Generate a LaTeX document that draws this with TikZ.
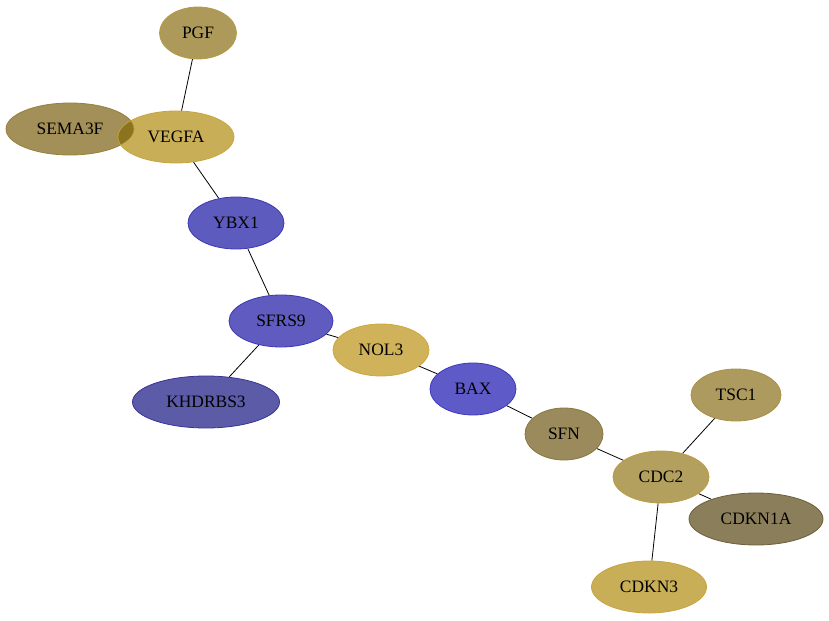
\documentclass[tikz,border=0pt]{standalone}
\usepackage{fontspec}
\setmainfont{Liberation Serif}
\usetikzlibrary{shapes.geometric}
\pgfdeclarelayer{bg}
\pgfsetlayers{bg,main}
\definecolor{overlapc}{RGB}{140,115,32}
\tikzset{
  gene/.style={ellipse, inner sep=0pt, minimum height=52bp, line width=0.8pt,
    fill opacity=0.85, text opacity=1, font=\fontsize{17.5}{20}\selectfont},
  edge/.style={draw=black, line width=0.8pt}
}
\begin{document}
\begin{tikzpicture}[x=1bp,y=-1bp]
\useasboundingbox (0,0) rectangle (829,621);
\node[gene, minimum width=77bp, fill={rgb,255:red,159;green,136;blue,61}, draw={rgb,255:red,180;green,155;blue,70}] (PGF) at (198,33) {PGF};
\node[gene, minimum width=128bp, fill={rgb,255:red,147;green,124;blue,59}, draw={rgb,255:red,150;green,128;blue,60}] (SEMA3F) at (70,129) {SEMA3F};
\node[gene, minimum width=116bp, fill={rgb,255:red,192;green,160;blue,59}, draw={rgb,255:red,200;green,165;blue,60}] (VEGFA) at (176,137) {VEGFA};
\begin{scope}
\clip (SEMA3F.center) ellipse [x radius=63.6, y radius=25.6];
\fill[overlapc] (VEGFA.center) ellipse [x radius=57.6, y radius=25.6];
\end{scope}
\node[gene, minimum width=96bp, fill={rgb,255:red,66;green,62;blue,180}, draw={rgb,255:red,60;green,55;blue,180}] (YBX1) at (236,223) {YBX1};
\node[gene, minimum width=104bp, fill={rgb,255:red,68;green,64;blue,180}, draw={rgb,255:red,60;green,55;blue,180}] (SFRS9) at (281,321) {SFRS9};
\node[gene, minimum width=96bp, fill={rgb,255:red,199;green,164;blue,61}, draw={rgb,255:red,205;green,168;blue,60}] (NOL3) at (381,350) {NOL3};
\node[gene, minimum width=147bp, fill={rgb,255:red,64;green,62;blue,153}, draw={rgb,255:red,55;green,52;blue,150}] (KHDRBS3) at (206,402) {KHDRBS3};
\node[gene, minimum width=86bp, fill={rgb,255:red,66;green,62;blue,191}, draw={rgb,255:red,60;green,55;blue,190}] (BAX) at (473,389) {BAX};
\node[gene, minimum width=78bp, fill={rgb,255:red,137;green,119;blue,63}, draw={rgb,255:red,135;green,118;blue,65}] (SFN) at (564,434) {SFN};
\node[gene, minimum width=90bp, fill={rgb,255:red,159;green,136;blue,66}, draw={rgb,255:red,170;green,145;blue,70}] (TSC1) at (736,395) {TSC1};
\node[gene, minimum width=96bp, fill={rgb,255:red,167;green,143;blue,66}, draw={rgb,255:red,185;green,155;blue,70}] (CDC2) at (661,477) {CDC2};
\node[gene, minimum width=134bp, fill={rgb,255:red,119;green,103;blue,61}, draw={rgb,255:red,110;green,95;blue,60}] (CDKN1A) at (756,519) {CDKN1A};
\node[gene, minimum width=115bp, fill={rgb,255:red,192;green,160;blue,59}, draw={rgb,255:red,200;green,165;blue,60}] (CDKN3) at (649,587) {CDKN3};
\begin{pgfonlayer}{bg}
\draw[edge] (PGF) -- (VEGFA);
\draw[edge] (VEGFA) -- (YBX1);
\draw[edge] (YBX1) -- (SFRS9);
\draw[edge] (SFRS9) -- (KHDRBS3);
\draw[edge] (SFRS9) -- (NOL3);
\draw[edge] (NOL3) -- (BAX);
\draw[edge] (BAX) -- (SFN);
\draw[edge] (SFN) -- (CDC2);
\draw[edge] (CDC2) -- (TSC1);
\draw[edge] (CDC2) -- (CDKN1A);
\draw[edge] (CDC2) -- (CDKN3);
\end{pgfonlayer}
\end{tikzpicture}
\end{document}
